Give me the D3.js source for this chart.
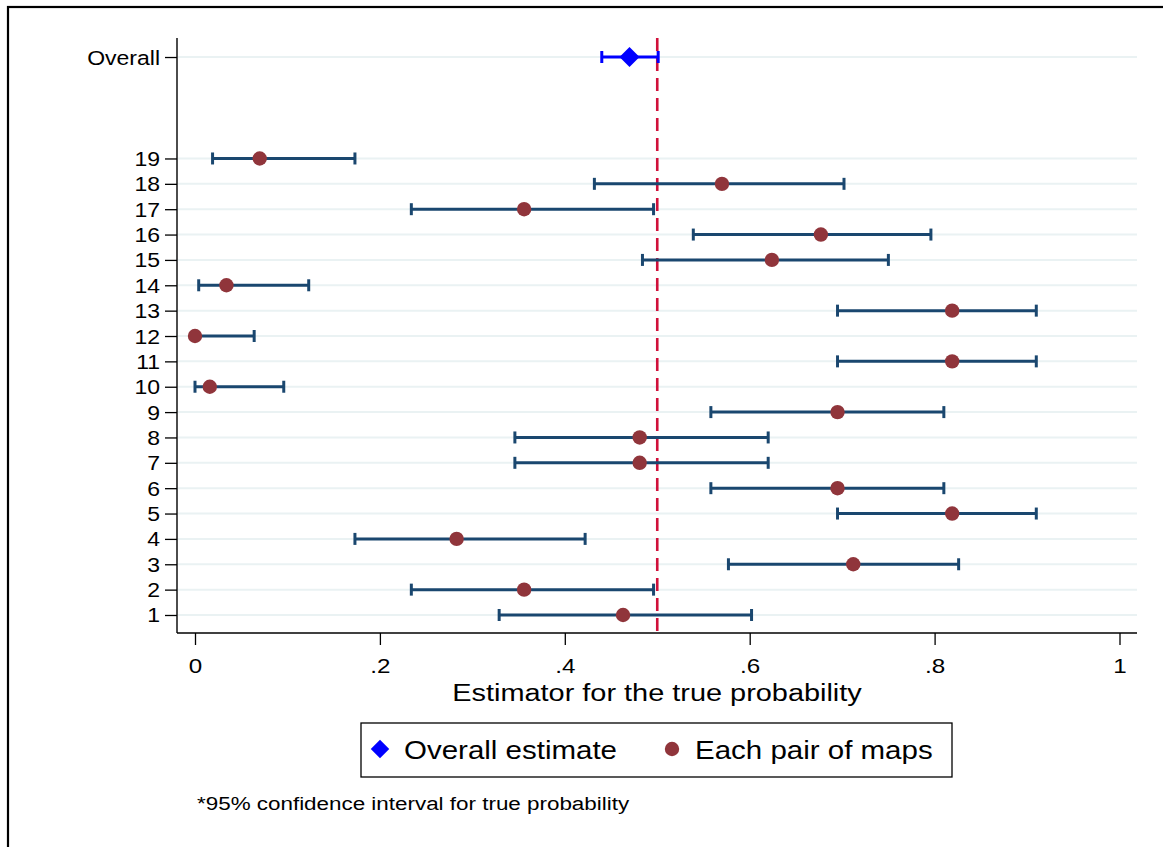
<!DOCTYPE html>
<html>
<head>
<meta charset="utf-8">
<script src="https://cdn.jsdelivr.net/npm/d3@7"></script>
<style>
    body { margin: 0; background: #fff; }
    svg text { font-family: "Liberation Sans", Arial, sans-serif; fill: #000; }
</style>
</head>
<body>
<svg id="chart" width="1163" height="847"></svg>
<script>
// rows 1..19 (pairs of maps)
var rows = d3.range(1, 20);
var pairLo  = [0.329, 0.234, 0.577, 0.173, 0.695, 0.558, 0.346, 0.346, 0.558, 0.000,
               0.695, 0.000, 0.695, 0.004, 0.484, 0.539, 0.234, 0.432, 0.019];
var pairEst = [0.463, 0.356, 0.712, 0.283, 0.819, 0.695, 0.481, 0.481, 0.695, 0.016,
               0.819, 0.000, 0.819, 0.034, 0.624, 0.677, 0.356, 0.570, 0.070];
var pairHi  = [0.602, 0.496, 0.826, 0.422, 0.910, 0.810, 0.620, 0.620, 0.810, 0.096,
               0.910, 0.064, 0.910, 0.123, 0.750, 0.796, 0.496, 0.702, 0.173];

// overall estimate, drawn on row 23
var overallRow = 23;
var overallLo = 0.440, overallEst = 0.470, overallHi = 0.501;

var xTicks = [0, 0.2, 0.4, 0.6, 0.8, 1];
var refLine = 0.5;
var xTitle = "Estimator for the true probability";
var legendLabels = ["Overall estimate", "Each pair of maps"];
var note = "*95% confidence interval for true probability";

var cfg = {
    left: 177, right: 1137, top: 38, bottom: 633,
    stretch: 1.18,
    ciColor: "#1a476f", dotColor: "#90353b", blue: "#0000ff",
    gridColor: "#eaf2f3", refColor: "#d0103a",
};

var svg = d3.select("#chart");

// outer frame
svg.append("rect")
    .attr("x", 8).attr("y", 7)
    .attr("width", 1180).attr("height", 870)
    .attr("fill", "none").attr("stroke", "#000").attr("stroke-width", 2.2);

var x = d3.scaleLinear().domain([0, 1]).range([195, 1119.5]);
var y = d3.scaleLinear().domain([0.29, 23.75]).range([cfg.bottom, cfg.top]);

// stretched text helper (the reference type is set a bit wide)
function wideText(g, px, py, str, size, anchor) {
    return g.append("text")
        .attr("transform", "translate(" + px + "," + py + ") scale(" + cfg.stretch + ",1)")
        .attr("text-anchor", anchor || "start")
        .style("font-size", size + "px")
        .text(str);
}

// gridlines
var gridRows = rows.concat([overallRow]);
svg.append("g")
    .selectAll("line")
    .data(gridRows)
    .join("line")
    .attr("x1", cfg.left + 1).attr("x2", cfg.right)
    .attr("y1", d => y(d)).attr("y2", d => y(d))
    .attr("stroke", cfg.gridColor).attr("stroke-width", 2);

// y axis
var yAxis = svg.append("g")
    .attr("transform", "translate(" + cfg.left + ",0)")
    .call(d3.axisLeft(y)
        .tickValues(gridRows)
        .tickSize(12)
        .tickFormat(d => d === overallRow ? "Overall" : d));
yAxis.select(".domain").remove();
yAxis.selectAll(".tick line").attr("stroke", "#000").attr("stroke-width", 1.3);
yAxis.selectAll(".tick text")
    .attr("x", null).attr("dy", null)
    .attr("transform", "translate(-17,7) scale(" + cfg.stretch + ",1)")
    .style("font-size", "19.5px")
    .attr("font-family", null)
    .attr("fill", "#000");
svg.append("line")
    .attr("x1", cfg.left).attr("x2", cfg.left)
    .attr("y1", cfg.top).attr("y2", cfg.bottom)
    .attr("stroke", "#000").attr("stroke-width", 1.4);

// x axis
var xAxis = svg.append("g")
    .attr("transform", "translate(0," + cfg.bottom + ")")
    .call(d3.axisBottom(x)
        .tickValues(xTicks)
        .tickSize(12)
        .tickFormat(d => d === 0 ? "0" : d === 1 ? "1" : String(d).replace("0.", ".")));
xAxis.select(".domain").remove();
xAxis.selectAll(".tick line").attr("stroke", "#000").attr("stroke-width", 1.3);
xAxis.selectAll(".tick text")
    .attr("y", null).attr("dy", null)
    .attr("transform", "translate(0,40) scale(" + cfg.stretch + ",1)")
    .style("font-size", "20.5px")
    .attr("font-family", null)
    .attr("fill", "#000");
svg.append("line")
    .attr("x1", cfg.left).attr("x2", cfg.right)
    .attr("y1", cfg.bottom).attr("y2", cfg.bottom)
    .attr("stroke", "#000").attr("stroke-width", 1.4);

wideText(svg, (cfg.left + cfg.right) / 2, 701, xTitle, 24.5, "middle");

// reference line at 0.5
svg.append("line")
    .attr("x1", x(refLine)).attr("x2", x(refLine))
    .attr("y1", cfg.top).attr("y2", cfg.bottom)
    .attr("stroke", cfg.refColor).attr("stroke-width", 2.6)
    .attr("stroke-dasharray", "13,7");

// confidence intervals for each pair
var capH = 6;
var ci = svg.append("g")
    .selectAll("g")
    .data(rows)
    .join("g")
    .attr("stroke", cfg.ciColor).attr("stroke-width", 3);
ci.append("line")
    .attr("x1", (d, i) => x(pairLo[i])).attr("x2", (d, i) => x(pairHi[i]))
    .attr("y1", d => y(d)).attr("y2", d => y(d));
ci.append("line")
    .attr("x1", (d, i) => x(pairLo[i])).attr("x2", (d, i) => x(pairLo[i]))
    .attr("y1", d => y(d) - capH).attr("y2", d => y(d) + capH);
ci.append("line")
    .attr("x1", (d, i) => x(pairHi[i])).attr("x2", (d, i) => x(pairHi[i]))
    .attr("y1", d => y(d) - capH).attr("y2", d => y(d) + capH);

svg.append("g")
    .selectAll("circle")
    .data(rows)
    .join("circle")
    .attr("cx", (d, i) => x(pairEst[i]))
    .attr("cy", d => y(d))
    .attr("r", 7.2)
    .attr("fill", cfg.dotColor);

// overall estimate
var ov = svg.append("g").attr("stroke", cfg.blue).attr("stroke-width", 3);
ov.append("line")
    .attr("x1", x(overallLo)).attr("x2", x(overallHi))
    .attr("y1", y(overallRow)).attr("y2", y(overallRow));
for (let v of [overallLo, overallHi]) {
    ov.append("line")
        .attr("x1", x(v)).attr("x2", x(v))
        .attr("y1", y(overallRow) - capH).attr("y2", y(overallRow) + capH);
}
var diamond = d3.symbol().type(d3.symbolSquare).size(200);
svg.append("path")
    .attr("d", diamond())
    .attr("transform", "translate(" + x(overallEst) + "," + y(overallRow) + ") rotate(45)")
    .attr("fill", cfg.blue);

// legend
var lg = svg.append("g");
lg.append("rect")
    .attr("x", 361).attr("y", 723)
    .attr("width", 591).attr("height", 54)
    .attr("fill", "#fff").attr("stroke", "#000").attr("stroke-width", 1.3);
lg.append("path")
    .attr("d", d3.symbol().type(d3.symbolSquare).size(170)())
    .attr("transform", "translate(380,749) rotate(45)")
    .attr("fill", cfg.blue);
wideText(lg, 404, 759, legendLabels[0], 25);
lg.append("circle")
    .attr("cx", 672).attr("cy", 749).attr("r", 7.2)
    .attr("fill", cfg.dotColor);
wideText(lg, 695, 759, legendLabels[1], 25);

// note
wideText(svg, 197, 810, note, 19);
</script>
</body>
</html>
